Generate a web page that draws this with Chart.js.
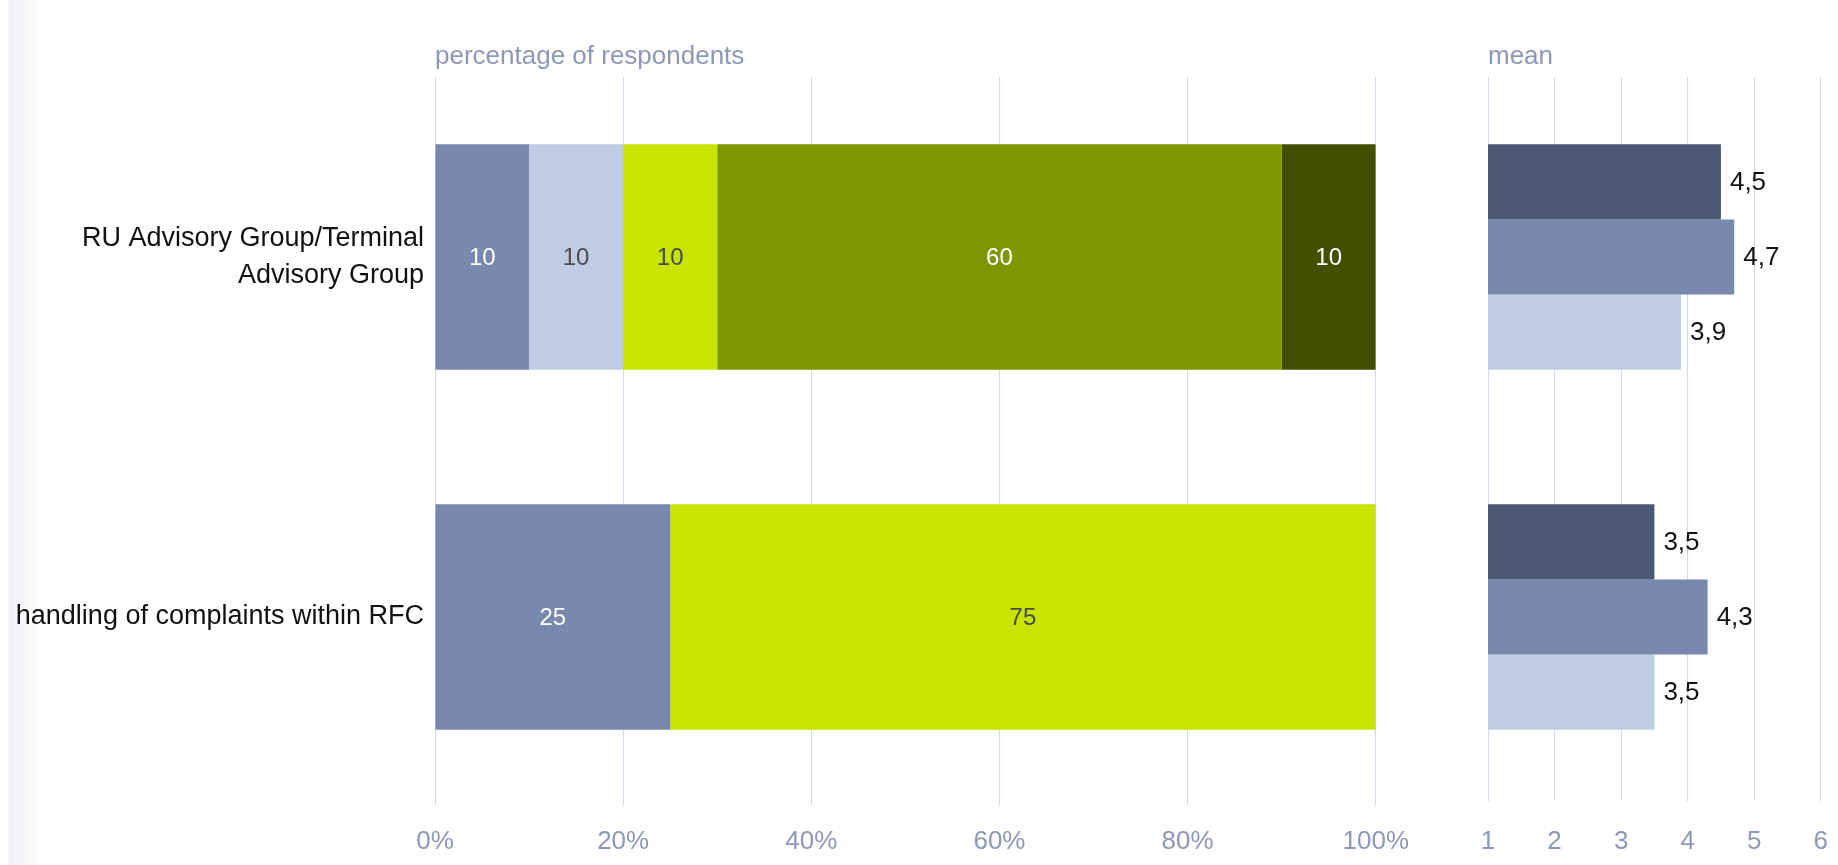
<!DOCTYPE html>
<html>
<head>
<meta charset="utf-8">
<title>Satisfaction survey</title>
<script src="https://cdn.jsdelivr.net/npm/chart.js@4.4.1/dist/chart.umd.min.js"></script>
<style>
    html, body { margin: 0; padding: 0; }
    body {
        width: 1838px;
        height: 865px;
        position: relative;
        overflow: hidden;
        background: linear-gradient(to right, #fff 0px, #fff 7px, #f1f2f7 10px, #f7f8fa 28px, #fff 42px);
    }
    #shareChart { position: absolute; left: 0; top: 0; }
    #meanChart { position: absolute; left: 1430px; top: 0; }
</style>
</head>
<body>
<canvas id="shareChart" width="1430" height="865"></canvas>
<canvas id="meanChart" width="423" height="865"></canvas>
<script>
const categories = [["RU Advisory Group/Terminal", "Advisory Group"], "handling of complaints within RFC"];

// share of respondents per answer, in percent
const shareRating1 = [10, 25];
const shareRating2 = [10, 0];
const shareRating3 = [10, 75];
const shareRating4 = [60, 0];
const shareRating5 = [10, 0];

// mean score per survey wave
const meanWave1 = [4.5, 3.5];
const meanWave2 = [4.7, 4.3];
const meanWave3 = [3.9, 3.5];

const percentTicks = [0, 20, 40, 60, 80, 100];
const meanTicks = [1, 2, 3, 4, 5, 6];

const fontFamily = "'Liberation Sans', Arial, sans-serif";
const axisGrey = "#8b99b5";
const gridColor = "#d1d9ea";

const shareColors = ["#7889ad", "#bfcde4", "#c8e400", "#809600", "#444e00"];
const shareTextColors = ["#ffffff", "#4a4a4a", "#4a4a4a", "#ffffff", "#ffffff"];
const meanColors = ["#4a5873", "#7889ad", "#bfcde4"];

Chart.defaults.font.family = fontFamily;

const formatValue = (value) => String(value).replace(".", ",");

// writes the value on (or beside) each bar
const valueLabels = {
    id: "valueLabels",
    afterDatasetsDraw(chart, args, opts) {
        const ctx = chart.ctx;
        ctx.save();
        ctx.font = `${opts.size}px ${fontFamily}`;
        ctx.textBaseline = "middle";
        chart.data.datasets.forEach((dataset, i) => {
            chart.getDatasetMeta(i).data.forEach((bar, j) => {
                const value = dataset.data[j];
                if (!value) {
                    return;
                }
                if (opts.inside) {
                    ctx.textAlign = "center";
                    ctx.fillStyle = opts.colors[i];
                    ctx.fillText(formatValue(value), (bar.x + bar.base) / 2, bar.y + 1);
                } else {
                    ctx.textAlign = "left";
                    ctx.fillStyle = opts.color;
                    ctx.fillText(formatValue(value), bar.x + opts.offset, bar.y + 1);
                }
            });
        });
        ctx.restore();
    }
};

// small caption above the plot area, flush with its left edge
const panelCaption = {
    id: "panelCaption",
    afterDraw(chart, args, opts) {
        const ctx = chart.ctx;
        ctx.save();
        ctx.font = `26px ${fontFamily}`;
        ctx.fillStyle = axisGrey;
        ctx.textAlign = "left";
        ctx.textBaseline = "alphabetic";
        ctx.fillText(opts.text, chart.chartArea.left, opts.baseline);
        ctx.restore();
    }
};

const tickFont = { size: 26 };

new Chart(document.getElementById("shareChart"), {
    type: "bar",
    data: {
        labels: categories,
        datasets: [shareRating1, shareRating2, shareRating3, shareRating4, shareRating5].map((data, i) => ({
            label: `rating ${i + 1}`,
            data: data,
            backgroundColor: shareColors[i],
            borderWidth: 0,
            barPercentage: 0.626,
            categoryPercentage: 1
        }))
    },
    options: {
        indexAxis: "y",
        responsive: false,
        animation: false,
        layout: { padding: { top: 77, right: 44, left: 0, bottom: 0 } },
        plugins: {
            legend: { display: false },
            tooltip: { enabled: false },
            valueLabels: { inside: true, size: 24, colors: shareTextColors },
            panelCaption: { text: "percentage of respondents", baseline: 64 }
        },
        scales: {
            x: {
                stacked: true,
                min: percentTicks[0],
                max: percentTicks[percentTicks.length - 1],
                afterBuildTicks: (scale) => {
                    scale.ticks = percentTicks.map((value) => ({ value }));
                },
                afterFit: (scale) => { scale.height = 68; },
                grid: { color: gridColor, tickLength: 8, tickColor: gridColor },
                border: { display: false },
                ticks: {
                    color: axisGrey,
                    font: tickFont,
                    padding: 21,
                    maxRotation: 0,
                    callback: (value) => `${value}%`
                }
            },
            y: {
                stacked: true,
                afterFit: (scale) => { scale.width = 435; },
                grid: { display: false },
                border: { display: false },
                ticks: { color: "#111111", font: { size: 27, lineHeight: 1.35 }, padding: 3 }
            }
        }
    },
    plugins: [valueLabels, panelCaption]
});

new Chart(document.getElementById("meanChart"), {
    type: "bar",
    data: {
        labels: categories,
        datasets: [meanWave1, meanWave2, meanWave3].map((data, i) => ({
            label: `wave ${i + 1}`,
            data: data,
            backgroundColor: meanColors[i],
            borderWidth: 0,
            barPercentage: 1,
            categoryPercentage: 0.626
        }))
    },
    options: {
        indexAxis: "y",
        responsive: false,
        animation: false,
        layout: { padding: { top: 77, right: 14, left: 58, bottom: 0 } },
        plugins: {
            legend: { display: false },
            tooltip: { enabled: false },
            valueLabels: { inside: false, size: 26, color: "#111111", offset: 9 },
            panelCaption: { text: "mean", baseline: 64 }
        },
        scales: {
            x: {
                min: meanTicks[0],
                max: meanTicks[meanTicks.length - 1],
                afterBuildTicks: (scale) => {
                    scale.ticks = meanTicks.map((value) => ({ value }));
                },
                afterFit: (scale) => { scale.height = 68; },
                grid: { color: gridColor, tickLength: 4, tickColor: gridColor },
                border: { display: false },
                ticks: { color: axisGrey, font: tickFont, padding: 25, maxRotation: 0 }
            },
            y: { display: false }
        }
    },
    plugins: [valueLabels, panelCaption]
});
</script>
</body>
</html>
